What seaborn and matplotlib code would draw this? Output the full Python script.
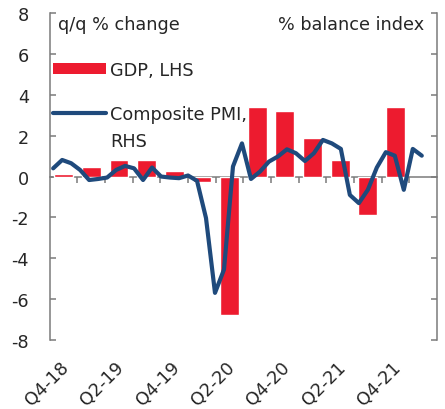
import numpy as np
import pandas as pd
import matplotlib
matplotlib.use("Agg")
import matplotlib.pyplot as plt
import matplotlib.transforms as mtransforms
import seaborn as sns
from matplotlib.patches import Patch
from matplotlib.lines import Line2D

# ---- data ----
quarters = ["Q4-18", "Q1-19", "Q2-19", "Q3-19", "Q4-19", "Q1-20", "Q2-20",
            "Q3-20", "Q4-20", "Q1-21", "Q2-21", "Q3-21", "Q4-21", "Q1-22"]
gdp = [0.13, 0.49, 0.81, 0.81, 0.29, -0.25, -6.78,
       3.41, 3.20, 1.90, 0.81, -1.87, 3.41, np.nan]
tick_labels = ["Q4-18", "Q2-19", "Q4-19", "Q2-20", "Q4-20", "Q2-21", "Q4-21"]

pmi = [0.40, 0.81, 0.65, 0.32, -0.17, -0.12, -0.05, 0.32, 0.52, 0.40,
       -0.17, 0.44, 0.00, -0.05, -0.08, 0.05, -0.21, -2.03, -5.69, -4.55,
       0.49, 1.62, -0.12, 0.24, 0.73, 0.98, 1.33, 1.14, 0.76, 1.14,
       1.79, 1.62, 1.35, -0.90, -1.30, -0.65, 0.44, 1.19, 1.02, -0.65,
       1.35, 1.02]

RED = "#ED1B2F"
BLUE = "#1F4A7C"
GREY = "#7a7a7a"
FS = 12.7

sns.set_style("white")
plt.rcParams["font.family"] = ["DejaVu Sans"]

fig = plt.figure(figsize=(4.45, 4.10), dpi=100)
ax = fig.add_axes([0.112, 0.168, 0.870, 0.798])

df = pd.DataFrame({"quarter": quarters, "gdp": gdp})
sns.barplot(data=df, x="quarter", y="gdp", order=quarters, color=RED,
            saturation=1, width=0.68, ax=ax, errorbar=None)

ax2 = ax.twinx()
# monthly series mapped onto the quarterly category scale
mx = np.linspace(-0.38, 12.95, len(pmi))
sns.lineplot(x=mx, y=pmi, ax=ax2, color=BLUE, linewidth=3.0, sort=False)

for a in (ax, ax2):
    a.set_ylim(-8, 8)
    a.set_xlim(-0.5, 13.5)
    a.set_ylabel("")
    a.set_xlabel("")

ax.set_yticks(np.arange(-8, 9, 2))
ax.set_yticklabels([str(v) for v in range(-8, 9, 2)], fontsize=FS)
ax2.set_yticks(np.arange(-8, 9, 2))
ax2.set_yticklabels([])

ax.tick_params(axis="y", direction="in", length=4, width=1.1, color=GREY, pad=15)
ax2.tick_params(axis="y", direction="in", length=4, width=1.1, color=GREY)

tick_pos = [quarters.index(t) for t in tick_labels]
ax.set_xticks(tick_pos)
ax.set_xticklabels(tick_labels, rotation=45, ha="right", va="top",
                   rotation_mode="anchor", fontsize=FS)
ax.tick_params(axis="x", length=0, pad=13)
shift = mtransforms.ScaledTranslation(-4 / 100, 0, fig.dpi_scale_trans)
for lab in ax.get_xticklabels():
    lab.set_transform(lab.get_transform() + shift)

for s in ("top", "bottom", "right"):
    ax.spines[s].set_visible(False)
for s in ("top", "bottom", "left"):
    ax2.spines[s].set_visible(False)
ax.spines["left"].set_color(GREY)
ax.spines["left"].set_linewidth(1.1)
ax2.spines["right"].set_color(GREY)
ax2.spines["right"].set_linewidth(1.1)

# zero axis with quarter-boundary ticks
sec = ax.secondary_xaxis(0.5)
sec.set_alignment("bottom")
sec.set_xticks(np.arange(0.5, 13.5, 1))
sec.set_xticklabels([])
sec.tick_params(axis="x", direction="out", length=4, width=1.1, color=GREY,
                bottom=True, top=False)
sec.spines["bottom"].set_color(GREY)
sec.spines["bottom"].set_linewidth(1.1)

ax.text(0.02, 0.995, "q/q % change", transform=ax.transAxes, ha="left",
        va="top", fontsize=FS)
ax.text(0.966, 0.995, "% balance index", transform=ax.transAxes, ha="right",
        va="top", fontsize=FS)

fs_px = FS * 100 / 72
leg1 = ax2.legend([Patch(facecolor=RED, edgecolor="none")], ["GDP, LHS"],
                  loc="center left", bbox_to_anchor=(0.008, 0.827),
                  frameon=False, fontsize=FS, handlelength=53 / fs_px,
                  handleheight=11 / fs_px, handletextpad=0.25,
                  borderpad=0, borderaxespad=0)
ax2.add_artist(leg1)
ax2.legend([Line2D([0], [0], color=BLUE, linewidth=3.0)], ["Composite PMI,"],
           loc="center left", bbox_to_anchor=(0.008, 0.692),
           frameon=False, fontsize=FS, handlelength=53 / fs_px,
           handletextpad=0.25, borderpad=0, borderaxespad=0)
ax2.text(0.155, 0.61, "RHS", transform=ax2.transAxes, ha="left",
         va="center", fontsize=FS)

fig.savefig("out.png", dpi=100)
